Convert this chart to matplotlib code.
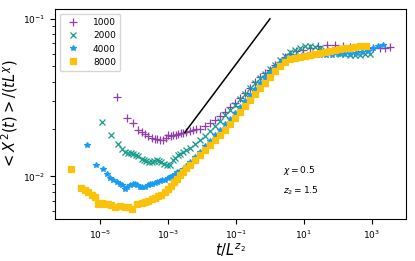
import numpy as np
import matplotlib
matplotlib.use('Agg')
import matplotlib.pyplot as plt

# log10 valores (x = t/L^z2, y = <X^2(t)>/(tL^chi))
x1000 = [-4.51, -4.21, -4.02, -3.89, -3.77, -3.68, -3.58, -3.48, -3.38, -3.31, -3.24, -3.14, -3.07,
         -2.99, -2.91, -2.84, -2.76, -2.70, -2.62, -2.55, -2.47, -2.35, -2.26, -2.16, -2.06,
         -1.91, -1.76, -1.62, -1.47, -1.32, -1.18, -1.03, -0.88, -0.74, -0.59, -0.44, -0.29, -0.15,
         0.00, 0.15, 0.29, 0.44, 0.59,
         0.76, 0.97, 1.18, 1.41, 1.68, 1.91, 2.15, 2.35, 2.59, 2.82, 3.03, 3.24, 3.38, 3.53]
y1000 = [-1.499, -1.632, -1.661, -1.703, -1.718, -1.728, -1.745, -1.754, -1.760, -1.764, -1.766, -1.771, -1.755,
         -1.739, -1.742, -1.739, -1.736, -1.732, -1.726, -1.722, -1.720, -1.710, -1.707, -1.701, -1.696,
         -1.682, -1.664, -1.640, -1.615, -1.589, -1.562, -1.535, -1.505, -1.471, -1.436, -1.401, -1.369, -1.344,
         -1.322, -1.296, -1.271, -1.245, -1.223,
         -1.207, -1.197, -1.185, -1.175, -1.166, -1.169, -1.172, -1.178, -1.185, -1.191, -1.188, -1.187, -1.183, -1.180]

x2000 = [-4.95, -4.66, -4.48, -4.36, -4.26, -4.17, -4.09, -4.02, -3.94, -3.87, -3.77, -3.71, -3.63, -3.56,
         -3.48, -3.41, -3.33, -3.26, -3.19, -3.12, -3.04, -2.94, -2.84, -2.78, -2.70, -2.63, -2.55, -2.47,
         -2.35, -2.21, -2.06, -1.91, -1.76, -1.62, -1.47, -1.32, -1.18, -1.03, -0.88, -0.74, -0.59, -0.44,
         -0.29, -0.15, 0.00, 0.15, 0.29, 0.44, 0.59,
         0.74, 0.88, 1.03, 1.18, 1.32, 1.47, 1.62, 1.76, 1.91, 2.06, 2.21, 2.35, 2.50, 2.65, 2.79, 2.94]
y2000 = [-1.654, -1.739, -1.792, -1.824, -1.845, -1.852, -1.854, -1.860, -1.866, -1.873, -1.887, -1.895, -1.903, -1.908,
         -1.909, -1.904, -1.898, -1.904, -1.909, -1.920, -1.930, -1.930, -1.898, -1.882, -1.866, -1.855, -1.845, -1.834,
         -1.818, -1.796, -1.771, -1.742, -1.710, -1.678, -1.646, -1.611, -1.580, -1.545, -1.510, -1.475, -1.439, -1.408,
         -1.376, -1.347, -1.318, -1.290, -1.261, -1.236, -1.213,
         -1.197, -1.185, -1.175, -1.172, -1.178, -1.188, -1.197, -1.207, -1.213, -1.220, -1.226, -1.229, -1.232, -1.229, -1.226, -1.220]

x4000 = [-5.39, -5.10, -4.92, -4.80, -4.71, -4.61, -4.51, -4.41, -4.34, -4.26, -4.19, -4.12, -4.04, -3.97,
         -3.90, -3.82, -3.75, -3.68, -3.60, -3.53, -3.46, -3.38, -3.31, -3.24, -3.16, -3.09, -3.01, -2.94,
         -2.87, -2.79, -2.72, -2.65, -2.56, -2.47,
         -2.35, -2.21, -2.06, -1.91, -1.76, -1.62, -1.47, -1.32, -1.18, -1.03, -0.88, -0.74, -0.59, -0.44,
         -0.29, -0.15, 0.00, 0.15, 0.29, 0.44, 0.59,
         0.76, 0.94, 1.12, 1.29, 1.47, 1.65, 1.82, 2.00, 2.18, 2.35, 2.53, 2.71, 2.88, 3.03, 3.18, 3.32]
y4000 = [-1.798, -1.930, -1.951, -1.983, -2.008, -2.021, -2.036, -2.046, -2.057, -2.078, -2.067, -2.057, -2.051, -2.046,
         -2.057, -2.068, -2.066, -2.064, -2.057, -2.051, -2.046, -2.043, -2.036, -2.030, -2.025, -2.021, -2.013, -2.004,
         -1.997, -1.987, -1.975, -1.968, -1.952, -1.933,
         -1.908, -1.876, -1.844, -1.809, -1.774, -1.739, -1.704, -1.669, -1.634, -1.596, -1.557, -1.519, -1.481, -1.443,
         -1.408, -1.373, -1.341, -1.309, -1.280, -1.255, -1.242,
         -1.236, -1.232, -1.232, -1.232, -1.229, -1.229, -1.229, -1.226, -1.226, -1.223, -1.217, -1.210, -1.201, -1.188, -1.175, -1.166]

x8000 = [-5.86, -5.56, -5.44, -5.34, -5.24, -5.15, -5.07, -4.95, -4.85, -4.76, -4.66, -4.56, -4.41, -4.26,
         -4.18, -4.07, -3.92, -3.77, -3.68, -3.58, -3.48, -3.38, -3.29, -3.19,
         -3.09, -3.00, -2.91, -2.82, -2.74, -2.65, -2.56, -2.47,
         -2.35, -2.21, -2.06, -1.91, -1.76, -1.62, -1.47, -1.32, -1.18, -1.03, -0.88, -0.74, -0.59, -0.44,
         -0.29, -0.15, 0.00, 0.15, 0.29, 0.44, 0.59,
         0.74, 0.88, 1.03, 1.18, 1.32, 1.47, 1.62, 1.76, 1.91, 2.06, 2.21, 2.35, 2.50, 2.65, 2.82]
y8000 = [-1.951, -2.072, -2.083, -2.100, -2.121, -2.132, -2.174, -2.170, -2.172, -2.172, -2.182, -2.191, -2.188, -2.191,
         -2.197, -2.206, -2.174, -2.170, -2.162, -2.157, -2.146, -2.136, -2.124, -2.115,
         -2.096, -2.080, -2.061, -2.038, -2.016, -1.994, -1.971, -1.949,
         -1.927, -1.898, -1.866, -1.834, -1.803, -1.771, -1.736, -1.704, -1.669, -1.631, -1.592, -1.554, -1.516, -1.478,
         -1.439, -1.404, -1.369, -1.334, -1.299, -1.274, -1.255,
         -1.248, -1.242, -1.236, -1.229, -1.223, -1.217, -1.210, -1.204, -1.197, -1.191, -1.185, -1.182, -1.178, -1.175, -1.172]

# reta de referencia (extremos)
retaX = [10**-2.5, 1.0]
retaY = [10**-1.72, 0.1]

series = [
    ('1000', x1000, y1000, '+', '#8e3fa8', 5.5),
    ('2000', x2000, y2000, 'x', '#179c8c', 4.5),
    ('4000', x4000, y4000, '*', '#1a9cf2', 4.3),
    ('8000', x8000, y8000, 's', '#fcc20a', 5),
]

fig = plt.figure(figsize=(4.15, 2.61), dpi=100)
ax = fig.add_axes([0.1325, 0.161, 0.845, 0.803])

for nome, xs, ys, mk, cor, ms in series:
    ax.plot(10**np.array(xs), 10**np.array(ys), linestyle='none', marker=mk, color=cor,
            markersize=ms, markeredgewidth=0.9, label=nome)

ax.plot(retaX, retaY, color='k', lw=1.1)

ax.set_xscale('log')
ax.set_yscale('log')
ax.set_xlim(10**-6.32, 10**3.99)
ax.set_ylim(10**-2.27, 10**-0.94)
ax.set_xticks([1e-5, 1e-3, 1e-1, 1e1, 1e3])
ax.xaxis.set_minor_locator(matplotlib.ticker.NullLocator())
ax.tick_params(labelsize=6.5)

ax.set_xlabel(r'$t/L^{z_2}$', fontsize=10.5, labelpad=0)
ax.set_ylabel(r'$<X^2(t)>/(tL^{\chi})$', fontsize=10.5, labelpad=2)

ax.text(0.65, 0.22, r'$\chi = 0.5$', transform=ax.transAxes, fontsize=6.5)
ax.text(0.65, 0.12, r'$z_2 = 1.5$', transform=ax.transAxes, fontsize=6.5)

ax.legend(loc='upper left', fontsize=6.5, handletextpad=1.2, borderpad=0.5, labelspacing=0.45)

fig.savefig('out.png', dpi=100)
